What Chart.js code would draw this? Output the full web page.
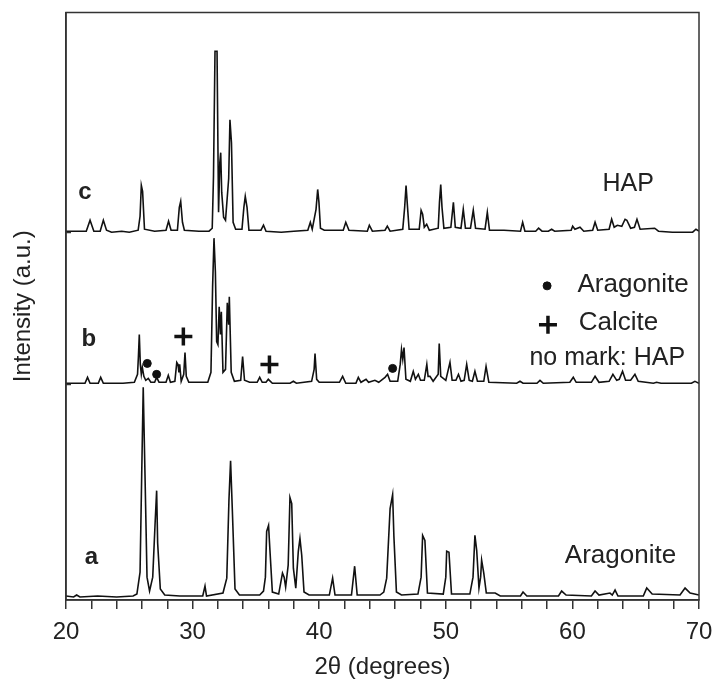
<!DOCTYPE html>
<html>
<head>
<meta charset="utf-8">
<script src="https://cdn.jsdelivr.net/npm/chart.js@4.4.1/dist/chart.umd.min.js"></script>
<style>
  html, body { margin: 0; padding: 0; background: #fff; }
  #wrap { width: 715px; height: 686px; }
</style>
</head>
<body>
<div id="wrap"><canvas id="xrd" width="715" height="686"></canvas></div>
<script>
// XRD patterns: [2theta, intensity above the pattern's own baseline]
const patternA = [
    [20.0,1],[20.6,0],[20.84,2],[21.1,0],[22.5,1],[24.0,0],[25.3,1],[25.6,3],[25.85,25],[25.98,123],
    [26.1,211],[26.24,123],[26.4,20],[26.6,6],[26.85,20],[27.03,72],[27.16,107],[27.24,54],[27.45,8],[27.8,2],
    [29.0,1],[30.8,1],[30.98,11],[31.1,1],[32.4,4],[32.7,19],[32.87,97],[33.0,137],[33.14,87],[33.35,8],
    [33.7,2],[35.3,2],[35.6,6],[35.75,20],[35.85,66],[36.0,72],[36.1,49],[36.3,5],[36.8,3],[37.1,24],
    [37.23,20],[37.35,10],[37.55,32],[37.69,100],[37.83,94],[37.96,29],[38.15,9],[38.35,46],[38.48,59],[38.62,42],
    [38.8,5],[39.2,2],[40.8,2],[41.06,19],[41.25,2],[42.55,2],[42.8,31],[43.0,2],[44.8,2],[45.1,5],
    [45.33,19],[45.6,89],[45.8,103],[45.9,61],[46.1,5],[46.5,2],[47.8,3],[48.05,20],[48.17,62],[48.35,57],
    [48.55,4],[49.8,3],[50.0,20],[50.07,46],[50.25,45],[50.45,3],[51.9,3],[52.15,20],[52.3,62],[52.44,47],
    [52.62,9],[52.75,20],[52.83,37],[53.0,24],[53.2,4],[53.9,4],[54.3,1],[55.9,1],[56.1,5],[56.4,1],
    [58.9,1],[59.15,6],[59.5,2],[61.5,1],[61.79,6],[62.1,2],[62.97,4],[63.15,2],[63.37,7],[63.6,1],
    [65.6,1],[65.87,9],[66.3,3],[68.5,2],[68.9,9],[69.3,4],[70.0,2]
];

const patternB = [
    [20.0,1],[21.5,1],[21.7,7],[21.9,1],[22.55,1],[22.74,7],[22.95,1],[24.5,1],[25.4,2],[25.65,10],
    [25.72,28],[25.79,50],[25.87,20],[25.95,10],[26.03,17],[26.15,8],[26.3,4],[26.5,6],[26.7,2],[27.0,2],
    [27.16,7],[27.35,2],[27.9,2],[28.08,9],[28.25,2],[28.6,3],[28.75,22],[28.85,20],[28.92,12],[28.98,20],
    [29.1,3],[29.3,10],[29.4,32],[29.5,8],[29.7,2],[31.2,2],[31.45,12],[31.58,98],[31.69,147],[31.8,113],
    [31.9,43],[32.0,40],[32.1,78],[32.2,50],[32.27,73],[32.4,12],[32.6,15],[32.74,82],[32.85,60],[32.9,88],
    [33.05,12],[33.3,3],[33.8,4],[33.95,28],[34.1,4],[34.5,2],[35.1,2],[35.3,7],[35.5,2],[35.8,2],
    [35.98,5],[36.3,1],[37.7,1],[37.96,3],[38.2,1],[39.4,3],[39.6,15],[39.67,31],[39.8,5],[40.0,2],
    [41.6,2],[41.85,8],[42.1,1],[42.9,1],[43.09,7],[43.3,2],[43.7,5],[43.9,2],[44.4,4],[44.7,2],
    [45.2,7],[45.4,10],[45.6,3],[46.2,3],[46.4,20],[46.5,35],[46.6,25],[46.7,37],[46.85,5],[47.2,3],
    [47.43,13],[47.6,5],[47.83,10],[48.0,4],[48.3,4],[48.5,20],[48.6,8],[48.75,8],[49.0,3],[49.4,10],
    [49.48,41],[49.6,8],[50.0,4],[50.33,22],[50.5,4],[50.8,4],[51.0,10],[51.2,3],[51.45,4],[51.65,20],
    [51.85,4],[52.1,3],[52.3,13],[52.5,3],[53.0,3],[53.18,18],[53.4,2],[55.6,1],[55.86,3],[56.1,1],
    [57.2,1],[57.44,4],[57.7,1],[59.8,2],[60.07,7],[60.3,2],[61.5,2],[61.79,8],[62.1,2],[62.9,3],
    [63.2,10],[63.5,4],[63.7,5],[63.96,13],[64.2,4],[64.6,4],[64.94,10],[65.2,3],[66.4,1],[66.65,2],
    [67.0,1],[69.4,1],[69.68,3],[70.0,1]
];

const patternC = [
    [20.0,1],[21.6,1],[21.9,12],[22.2,1],[22.7,1],[22.95,12],[23.2,2],[23.6,0],[24.4,1],[25.0,0],
    [25.7,2],[25.85,16],[25.95,47],[26.05,41],[26.2,3],[27.0,1],[27.9,2],[28.1,11],[28.3,2],[28.8,2],
    [28.95,25],[29.06,31],[29.2,10],[29.35,2],[30.5,1],[31.3,1],[31.55,4],[31.65,56],[31.77,182],[31.93,182],
    [32.05,20],[32.15,70],[32.22,80],[32.3,40],[32.45,15],[32.6,12],[32.85,54],[32.95,113],[33.07,90],[33.2,10],
    [33.4,3],[33.9,3],[34.05,25],[34.16,36],[34.3,25],[34.45,2],[35.4,2],[35.6,7],[35.8,1],[37.0,0],
    [38.0,1],[39.1,2],[39.3,10],[39.45,3],[39.75,23],[39.88,43],[39.98,30],[40.1,4],[40.4,2],[41.9,2],
    [42.1,10],[42.35,2],[43.8,1],[43.96,7],[44.2,1],[45.2,2],[45.38,6],[45.6,1],[46.6,3],[46.75,25],
    [46.86,47],[46.95,30],[47.1,3],[47.9,3],[48.05,22],[48.17,18],[48.3,5],[48.49,8],[48.7,2],[49.4,4],
    [49.5,30],[49.6,48],[49.7,25],[49.85,4],[50.4,5],[50.6,30],[50.75,5],[51.2,4],[51.38,23],[51.55,4],
    [51.95,4],[52.17,22],[52.35,4],[53.1,3],[53.28,20],[53.45,2],[54.6,2],[55.9,1],[56.07,10],[56.25,1],
    [57.1,1],[57.33,4],[57.6,1],[58.1,1],[58.36,3],[58.6,1],[59.9,2],[60.02,6],[60.2,3],[60.6,5],
    [60.9,1],[61.6,2],[61.79,10],[62.0,2],[62.9,3],[63.1,13],[63.3,5],[63.55,7],[63.9,6],[64.16,13],
    [64.3,12],[64.6,4],[64.9,5],[65.1,13],[65.35,3],[66.5,4],[66.8,1],[67.9,0],[69.5,0],[69.76,3],
    [70.0,1]
];

// vertical stacking of the three patterns (a at the bottom)
const patternOffsets = [3, 217, 370];
const patternLabels = ['a', 'b', 'c'];

// phase marks on pattern b
const aragoniteMarks = [[26.42, 238], [27.16, 227], [45.8, 233]];
const calciteMarks = [[29.27, 265], [36.07, 237]];

const xTicks = [20, 30, 40, 50, 60, 70];

const FONT = '"Liberation Sans", Arial, Helvetica, sans-serif';
const TEXT_COLOR = '#222';

function stacked(pattern, offset) {
    return pattern.map(p => ({ x: p[0], y: p[1] + offset }));
}

function toPoints(list) {
    return list.map(p => ({ x: p[0], y: p[1] }));
}

// text labels placed in data coordinates
const chartTexts = [
    { text: 'c', x: 21.5, y: 410, bold: true, size: 24, align: 'center' },
    { text: 'b', x: 21.8, y: 262, bold: true, size: 24, align: 'center' },
    { text: 'a', x: 22.0, y: 43, bold: true, size: 24, align: 'center' },
    { text: 'HAP', x: 64.4, y: 418, size: 25, align: 'center' },
    { text: 'Aragonite', x: 63.8, y: 44, size: 26, align: 'center' },
    { text: 'Aragonite', x: 60.4, y: 317, size: 26, align: 'left' },
    { text: 'Calcite', x: 60.5, y: 279, size: 26, align: 'left' },
    { text: 'no mark: HAP', x: 68.9, y: 243, size: 25, align: 'right' }
];

const textPlugin = {
    id: 'chartTexts',
    afterDatasetsDraw(chart) {
        const ctx = chart.ctx;
        const xs = chart.scales.x;
        const ys = chart.scales.y;
        const area = chart.chartArea;
        ctx.save();
        // frame round the plot
        ctx.strokeStyle = '#333';
        ctx.lineWidth = 1.5;
        ctx.strokeRect(area.left, area.top, area.right - area.left, area.bottom - area.top);
        // little inward marks at the baselines of b and c
        patternOffsets.slice(1).forEach(off => {
            const y = Math.round(ys.getPixelForValue(off)) + 0.5;
            ctx.beginPath();
            ctx.moveTo(area.left, y);
            ctx.lineTo(area.left + 5, y);
            ctx.stroke();
        });
        ctx.fillStyle = TEXT_COLOR;
        ctx.textBaseline = 'middle';
        chartTexts.forEach(t => {
            ctx.font = (t.bold ? 'bold ' : '') + t.size + 'px ' + FONT;
            ctx.textAlign = t.align;
            ctx.fillText(t.text, xs.getPixelForValue(t.x), ys.getPixelForValue(t.y));
        });
        ctx.restore();
    }
};

const datasets = [patternA, patternB, patternC].map((pattern, i) => ({
    label: patternLabels[i],
    data: stacked(pattern, patternOffsets[i]),
    borderColor: '#111',
    borderWidth: 1.6,
    pointRadius: 0,
    tension: 0,
    fill: false
}));

datasets.push({
    label: 'Aragonite marks',
    type: 'scatter',
    data: toPoints(aragoniteMarks).concat([{ x: 58.0, y: 316 }]),
    pointStyle: 'circle',
    pointRadius: 4,
    backgroundColor: '#111',
    borderColor: '#111'
});
datasets.push({
    label: 'Calcite marks',
    type: 'scatter',
    data: toPoints(calciteMarks).concat([{ x: 58.07, y: 277 }]),
    pointStyle: 'cross',
    pointRadius: 9,
    borderWidth: 3.5,
    borderColor: '#111'
});

new Chart(document.getElementById('xrd'), {
    type: 'line',
    data: { datasets: datasets },
    plugins: [textPlugin],
    options: {
        responsive: false,
        animation: false,
        layout: { padding: { top: 3, right: 16, left: 0, bottom: 0 } },
        plugins: {
            legend: { display: false },
            tooltip: { enabled: false }
        },
        scales: {
            x: {
                type: 'linear',
                min: 20,
                max: 70,
                afterFit: axis => {
                    axis.height = 86;
                    axis.paddingLeft = 0;
                    axis.paddingRight = 0;
                    axis.paddingTop = 0;
                    axis.paddingBottom = 0;
                },
                afterBuildTicks: axis => {
                    const ticks = [];
                    for (let v = 20; v <= 70; v += 2) ticks.push({ value: v });
                    axis.ticks = ticks;
                },
                border: { display: true, color: '#333', width: 1.5 },
                grid: { drawOnChartArea: false, drawTicks: true, tickLength: 9, color: '#333', lineWidth: 1.5 },
                ticks: {
                    color: TEXT_COLOR,
                    font: { family: FONT, size: 24 },
                    padding: 9,
                    maxRotation: 0,
                    autoSkip: false,
                    callback: v => xTicks.includes(v) ? String(v) : ''
                },
                title: {
                    display: true,
                    text: '2θ (degrees)',
                    color: TEXT_COLOR,
                    font: { family: FONT, size: 24 },
                    padding: { top: 4 }
                }
            },
            y: {
                min: 0,
                max: 591,
                afterFit: axis => {
                    axis.width = 66;
                    axis.paddingTop = 0;
                    axis.paddingBottom = 0;
                    axis.paddingLeft = 0;
                    axis.paddingRight = 0;
                },
                border: { display: true, color: '#333', width: 1.5 },
                grid: { display: false },
                ticks: { display: false },
                title: {
                    display: true,
                    text: 'Intensity (a.u.)',
                    color: TEXT_COLOR,
                    font: { family: FONT, size: 24 },
                    padding: { top: 9, bottom: 10 }
                }
            }
        }
    }
});
</script>
</body>
</html>
